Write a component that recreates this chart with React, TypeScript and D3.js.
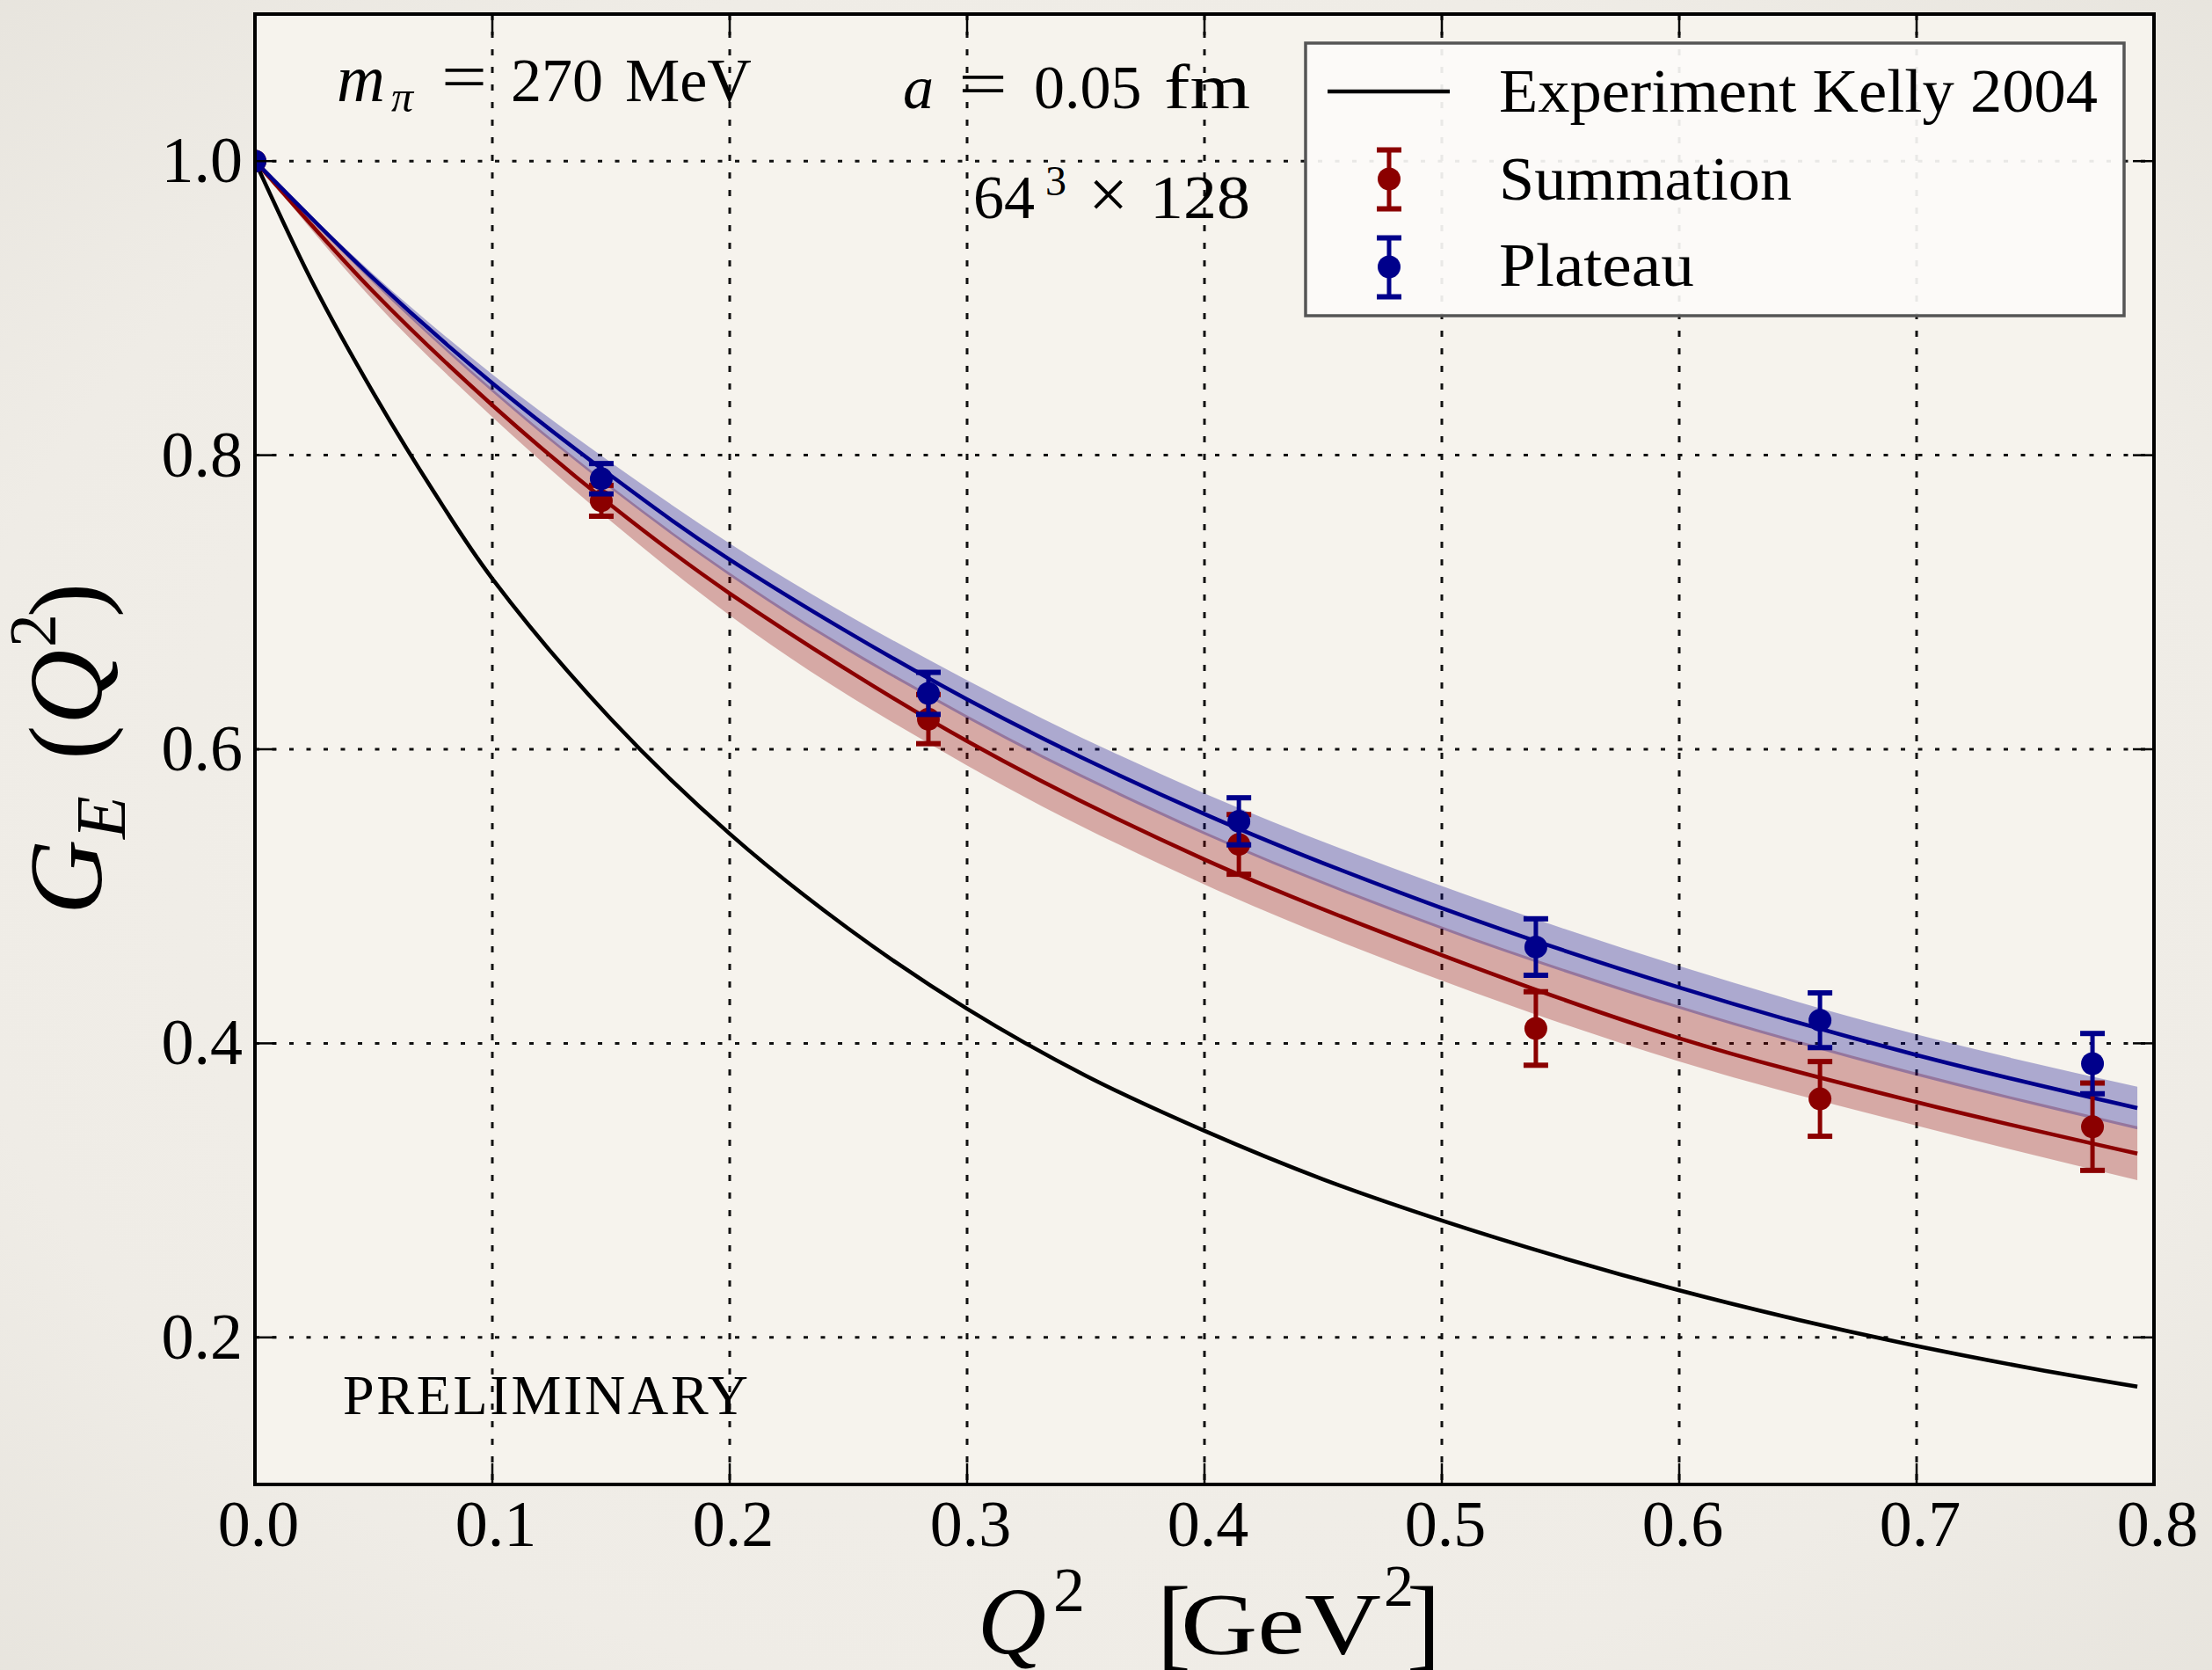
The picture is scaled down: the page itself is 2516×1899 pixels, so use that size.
import React, { useEffect } from "react";
import * as d3 from "d3";

// ---------- data ----------
const xTicks = [0.0, 0.1, 0.2, 0.3, 0.4, 0.5, 0.6, 0.7, 0.8];
const xTickLabels = ["0.0", "0.1", "0.2", "0.3", "0.4", "0.5", "0.6", "0.7", "0.8"];
const yTicks = [0.2, 0.4, 0.6, 0.8, 1.0];
const yTickLabels = ["0.2", "0.4", "0.6", "0.8", "1.0"];

// Experiment (Kelly 2004) curve
const kellyQ2 = [0, 0.025, 0.05, 0.075, 0.1, 0.15, 0.2, 0.25, 0.3, 0.35, 0.4, 0.45, 0.5, 0.55, 0.6, 0.65, 0.7, 0.75, 0.793];
const kellyGE = [1.0, 0.915, 0.842, 0.776, 0.716, 0.6205, 0.5425, 0.478, 0.4235, 0.378, 0.3405, 0.3075, 0.2795, 0.2545, 0.232, 0.212, 0.1942, 0.1785, 0.1665];

// fit curves and bands
const fitQ2 = [0, 0.05, 0.1, 0.15, 0.2, 0.3, 0.4, 0.5, 0.6, 0.7, 0.793];
const plateauFit = [1.0, 0.92, 0.849, 0.786, 0.729, 0.634, 0.556, 0.492, 0.438, 0.392, 0.356];
const plateauLo = [1.0, 0.917, 0.843, 0.777, 0.718, 0.621, 0.542, 0.4775, 0.4235, 0.378, 0.3415];
const plateauHi = [1.0, 0.923, 0.855, 0.795, 0.74, 0.647, 0.57, 0.507, 0.4525, 0.406, 0.3705];
const summationFit = [1.0, 0.911, 0.834, 0.766, 0.706, 0.6055, 0.525, 0.46, 0.4035, 0.36, 0.325];
const summationLo = [1.0, 0.905, 0.826, 0.755, 0.691, 0.589, 0.508, 0.4427, 0.3877, 0.344, 0.307];
const summationHi = [1.0, 0.919, 0.845, 0.779, 0.72, 0.623, 0.544, 0.4795, 0.4255, 0.38, 0.3435];

// lattice data points
const pointQ2 = [0, 0.1459, 0.2837, 0.4145, 0.5396, 0.6593, 0.7741];
const plateauGE = [1.0, 0.784, 0.638, 0.551, 0.4655, 0.4157, 0.3862];
const plateauErr = [0, 0.0103, 0.0143, 0.016, 0.0192, 0.0186, 0.0205];
const summationGE = [1.0, 0.769, 0.6205, 0.5353, 0.4101, 0.3622, 0.3433];
const summationErr = [0, 0.0105, 0.0167, 0.0203, 0.025, 0.0254, 0.0297];

// ---------- layout ----------
const W = 2516;
const H = 1899;
const L = 290, R = 2450, T = 16, B = 1688;
const RED = "#8b0000";
const BLUE = "#00008b";
const SERIF = "'Liberation Serif', 'DejaVu Serif', serif";

export default function App() {
  useEffect(() => {
    document.body.style.margin = "0";
    document.body.style.background = "#efece6";
  }, []);

  const x = d3.scaleLinear().domain([0, 0.8]).range([L, R]);
  const y = d3.scaleLinear().domain([0.1, 1.1]).range([B, T]);

  const line = (xs: number[], ys: number[]) =>
    d3.line<number>().x((_, i) => x(xs[i])).y((v) => y(v)).curve(d3.curveCatmullRom.alpha(0.5))(ys) || "";
  const area = (xs: number[], lo: number[], hi: number[]) =>
    d3
      .area<number>()
      .x((_, i) => x(xs[i]))
      .y0((_, i) => y(lo[i]))
      .y1((_, i) => y(hi[i]))
      .curve(d3.curveMonotoneX)(xs) || "";

  const errorBars = (vals: number[], errs: number[], color: string) =>
    pointQ2.map((q, i) => {
      const cx = x(q);
      const yt = y(vals[i] + errs[i]);
      const yb = y(vals[i] - errs[i]);
      return (
        <g key={color + i}>
          {errs[i] > 0 && (
            <>
              <line x1={cx} x2={cx} y1={yt} y2={yb} stroke={color} strokeWidth={5} />
              <line x1={cx - 14} x2={cx + 14} y1={yt} y2={yt} stroke={color} strokeWidth={6} />
              <line x1={cx - 14} x2={cx + 14} y1={yb} y2={yb} stroke={color} strokeWidth={6} />
            </>
          )}
          <circle cx={cx} cy={y(vals[i])} r={13} fill={color} />
        </g>
      );
    });

  const legendMarker = (cx: number, cy: number, color: string) => (
    <g>
      <line x1={cx} x2={cx} y1={cy - 33} y2={cy + 34} stroke={color} strokeWidth={5} />
      <line x1={cx - 14} x2={cx + 14} y1={cy - 33} y2={cy - 33} stroke={color} strokeWidth={6} />
      <line x1={cx - 14} x2={cx + 14} y1={cy + 34} y2={cy + 34} stroke={color} strokeWidth={6} />
      <circle cx={cx} cy={cy} r={13} fill={color} />
    </g>
  );

  return (
    <svg
      width={W}
      height={H}
      viewBox={`0 0 ${W} ${H}`}
      style={{ position: "absolute", left: 0, top: 0, display: "block" }}
    >
      <defs>
        <radialGradient id="bg" cx="50%" cy="50%" r="75%">
          <stop offset="0%" stopColor="#f4f1eb" />
          <stop offset="70%" stopColor="#efece6" />
          <stop offset="100%" stopColor="#e6e3dc" />
        </radialGradient>
        <clipPath id="plotClip">
          <rect x={L} y={T} width={R - L} height={B - T} />
        </clipPath>
      </defs>
      <rect x={0} y={0} width={W} height={H} fill="url(#bg)" />
      <rect x={L} y={T} width={R - L} height={B - T} fill="#f6f3ed" />

      {/* grid */}
      <g stroke="#111" strokeWidth={3}>
        {yTicks.map((v) => (
          <line key={"gy" + v} x1={L} x2={R} y1={y(v)} y2={y(v)} strokeDasharray="5 14.5" />
        ))}
        {xTicks.slice(1, -1).map((v) => (
          <line key={"gx" + v} x1={x(v)} x2={x(v)} y1={T} y2={B} strokeDasharray="7 13" />
        ))}
      </g>

      <g clipPath="url(#plotClip)">
        {/* bands */}
        <path d={area(fitQ2, summationLo, summationHi)} fill={RED} fillOpacity={0.3} />
        <path d={area(fitQ2, plateauLo, plateauHi)} fill={BLUE} fillOpacity={0.3} />
        {/* fit lines */}
        <path d={line(fitQ2, summationFit)} fill="none" stroke={RED} strokeWidth={4.5} />
        <path d={line(fitQ2, plateauFit)} fill="none" stroke={BLUE} strokeWidth={4.5} />
        {/* experiment */}
        <path d={line(kellyQ2, kellyGE)} fill="none" stroke="#000" strokeWidth={4.5} />
        {/* data points */}
        {errorBars(summationGE, summationErr, RED)}
        {errorBars(plateauGE, plateauErr, BLUE)}
      </g>

      {/* ticks */}
      <g stroke="#000" strokeWidth={2.5}>
        {xTicks.map((v) => (
          <g key={"tx" + v}>
            <line x1={x(v)} x2={x(v)} y1={B} y2={B - 24} />
            <line x1={x(v)} x2={x(v)} y1={T} y2={T + 24} />
          </g>
        ))}
        {yTicks.map((v) => (
          <g key={"ty" + v}>
            <line x1={L} x2={L + 24} y1={y(v)} y2={y(v)} />
            <line x1={R} x2={R - 24} y1={y(v)} y2={y(v)} />
          </g>
        ))}
      </g>

      {/* frame */}
      <rect x={L} y={T} width={R - L} height={B - T} fill="none" stroke="#000" strokeWidth={4} />

      {/* tick labels */}
      <g fontFamily={SERIF} fontSize={74} fill="#000">
        {xTicks.map((v, i) => (
          <text key={"lx" + v} x={x(v) + 4} y={1758} textAnchor="middle">
            {xTickLabels[i]}
          </text>
        ))}
        {yTicks.map((v, i) => (
          <text key={"ly" + v} x={276} y={y(v) + 24} textAnchor="end">
            {yTickLabels[i]}
          </text>
        ))}
      </g>

      {/* annotations */}
      <g fontFamily={SERIF} fill="#000">
        <text y={115} fontSize={70}>
          <tspan x={383} fontStyle="italic" fontSize={76}>m</tspan>
          <tspan x={445} y={127} fontStyle="italic" fontSize={50}>π</tspan>
          <tspan x={581} y={115}>270</tspan>
          <tspan x={711} y={115}>MeV</tspan>
        </text>
        <text x={502} y={113} fontSize={76} textLength={52} lengthAdjust="spacingAndGlyphs">=</text>
        <text y={123} fontSize={70}>
          <tspan x={1027} fontStyle="italic">a</tspan>
          <tspan x={1176}>0.05</tspan>
        </text>
        <text x={1090} y={121} fontSize={76} textLength={56} lengthAdjust="spacingAndGlyphs">=</text>
        <text x={1324} y={123} fontSize={72} textLength={98} lengthAdjust="spacingAndGlyphs">fm</text>
        <text y={248} fontSize={70}>
          <tspan x={1107}>64</tspan>
          <tspan x={1189} y={222} fontSize={48}>3</tspan>
          <tspan x={1238} y={248} fontSize={80}>×</tspan>
        </text>
        <text x={1308} y={248} fontSize={70} textLength={114} lengthAdjust="spacingAndGlyphs">128</text>
        <text x={390} y={1608} fontSize={64} textLength={461} lengthAdjust="spacing">
          PRELIMINARY
        </text>
      </g>

      {/* legend */}
      <rect x={1485} y={49} width={931} height={310} fill="#fcfbf9" fillOpacity={0.92} stroke="#555" strokeWidth={3.5} />
      <line x1={1510} x2={1649} y1={104} y2={104} stroke="#000" strokeWidth={4.5} />
      {legendMarker(1580, 203.5, RED)}
      {legendMarker(1580, 303.5, BLUE)}
      <g fontFamily={SERIF} fontSize={70} fill="#000">
        <text x={1705} y={127} textLength={681} lengthAdjust="spacingAndGlyphs">Experiment Kelly 2004</text>
        <text x={1705} y={227} textLength={333} lengthAdjust="spacingAndGlyphs">Summation</text>
        <text x={1705} y={325} textLength={222} lengthAdjust="spacingAndGlyphs">Plateau</text>
      </g>

      {/* x axis label */}
      <g fontFamily={SERIF} fill="#000">
        <text x={1112} y={1880} fontSize={108} fontStyle="italic">Q</text>
        <text x={1198} y={1832} fontSize={72}>2</text>
        <text x={1316} y={1884} fontSize={116}>[</text>
        <text x={1343} y={1880} fontSize={100} textLength={228} lengthAdjust="spacingAndGlyphs">GeV</text>
        <text x={1574} y={1826} fontSize={68}>2</text>
        <text x={1600} y={1884} fontSize={116}>]</text>
      </g>

      {/* y axis label */}
      <g transform="translate(115,1040) rotate(-90)" fontFamily={SERIF} fill="#000">
        <text x={0} y={0} fontSize={118} fontStyle="italic">G</text>
        <text x={86} y={27} fontSize={80} fontStyle="italic">E</text>
        <text x={176} y={0} fontSize={118}>(</text>
        <text x={216} y={0} fontSize={118} fontStyle="italic">Q</text>
        <text x={304} y={-52} fontSize={76}>2</text>
        <text x={338} y={0} fontSize={118}>)</text>
      </g>
    </svg>
  );
}
